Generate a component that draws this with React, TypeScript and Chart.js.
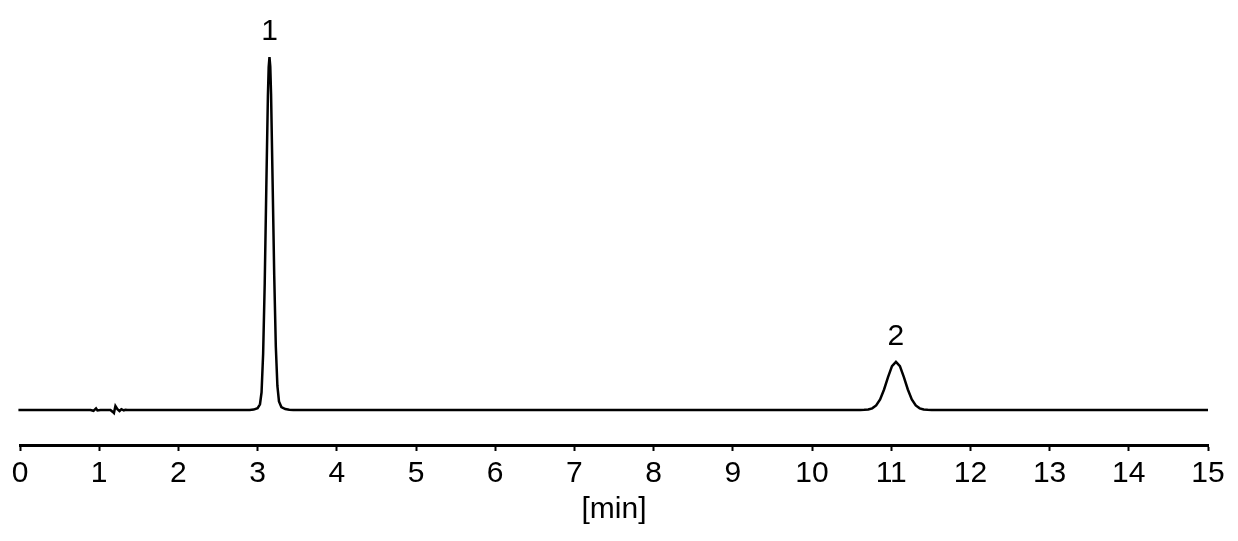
import React, { useEffect, useRef } from "react";
import { Chart, registerables } from "chart.js";

Chart.register(...registerables);

const FONT = "'Liberation Sans', Arial, Helvetica, sans-serif";

// x-axis tick labels (minutes)
const xTickValues = [0, 1, 2, 3, 4, 5, 6, 7, 8, 9, 10, 11, 12, 13, 14, 15];
const xAxisTitle = "[min]";

// baseline ends
const baselineStartTime = -0.02;
const baselineEndTime = 15;

// small injection disturbance around 1 min
const noiseTimes = [0.89, 0.928, 0.96, 0.978, 1.016, 1.142, 1.168, 1.186, 1.205, 1.23, 1.256, 1.28, 1.31, 1.33, 1.36];
const noiseSignal = [0, -0.25, 0.45, -0.15, 0, 0, -0.5, -0.9, 1.1, 0.2, -0.3, 0.2, -0.15, 0.05, 0];

// peak 1
const peak1Times = [2.9, 2.95, 3.0, 3.03, 3.05, 3.07, 3.09, 3.11, 3.13, 3.14, 3.15, 3.16, 3.17, 3.19, 3.21, 3.23, 3.25, 3.27, 3.3, 3.35, 3.4, 3.45];
const peak1Signal = [0, 0.1, 0.5, 1.6, 5.0, 16, 36, 63, 89, 97.2, 100, 97.3, 89.5, 64, 38, 18, 6.8, 2.4, 0.8, 0.25, 0.05, 0];

// peak 2
const peak2Times = [10.61, 10.66, 10.71, 10.76, 10.81, 10.86, 10.91, 10.96, 11.01, 11.06, 11.11, 11.16, 11.21, 11.26, 11.31, 11.36, 11.41, 11.46, 11.51];
const peak2Signal = [0, 0.03, 0.13, 0.45, 1.28, 3.0, 5.8, 9.3, 12.4, 13.6, 12.4, 9.3, 5.8, 3.0, 1.28, 0.45, 0.13, 0.03, 0];

// peak annotations
const peakLabels = ["1", "2"];
const peakApexTimes = [3.15, 11.06];
const peakApexSignal = [100, 13.6];

const traceTimes = [baselineStartTime, ...noiseTimes, ...peak1Times, ...peak2Times, baselineEndTime];
const traceSignal = [0, ...noiseSignal, ...peak1Signal, ...peak2Signal, 0];

const peakLabelPlugin = {
  id: "peakLabels",
  afterDatasetsDraw(chart: any) {
    const { ctx, scales } = chart;
    ctx.save();
    ctx.fillStyle = "#000";
    ctx.font = `30px ${FONT}`;
    ctx.textAlign = "center";
    ctx.textBaseline = "alphabetic";
    peakLabels.forEach((label, i) => {
      const x = scales.x.getPixelForValue(peakApexTimes[i]);
      const y = scales.y.getPixelForValue(peakApexSignal[i]);
      ctx.fillText(label, x, y - 17);
    });
    ctx.restore();
  },
};

export default function App() {
  const canvasRef = useRef<HTMLCanvasElement | null>(null);

  useEffect(() => {
    if (!canvasRef.current) return;
    const data = traceTimes.map((t, i) => ({ x: t, y: traceSignal[i] }));
    const chart = new Chart(canvasRef.current, {
      type: "line",
      data: {
        datasets: [
          {
            data,
            borderColor: "#000",
            borderWidth: 2.5,
            pointRadius: 0,
            tension: 0,
            fill: false,
            clip: false as any,
          },
        ],
      },
      options: {
        responsive: false,
        animation: false,
        parsing: false as any,
        layout: { padding: { left: 20, right: 30, top: 10, bottom: 13 } },
        plugins: { legend: { display: false }, tooltip: { enabled: false } },
        scales: {
          x: {
            type: "linear",
            min: 0,
            max: 15,
            afterBuildTicks: (axis: any) => {
              axis.ticks = xTickValues.map((v) => ({ value: v }));
            },
            ticks: {
              color: "#000",
              font: { family: FONT, size: 30 },
              padding: 5,
              maxRotation: 0,
              autoSkip: false,
            },
            grid: {
              display: true,
              drawOnChartArea: false,
              drawTicks: true,
              tickLength: 6,
              tickWidth: 2,
              tickColor: "#000",
            },
            border: { display: true, color: "#000", width: 3 },
            title: {
              display: true,
              text: xAxisTitle,
              color: "#000",
              font: { family: FONT, size: 30 },
              padding: { top: -5, bottom: 0 },
            },
          },
          y: {
            display: false,
            min: -9.94,
            max: 113.35,
          },
        },
      },
      plugins: [peakLabelPlugin],
    });
    return () => chart.destroy();
  }, []);

  return (
    <div style={{ position: "absolute", left: 0, top: 0, width: 1238, height: 541, background: "#fff" }}>
      <canvas ref={canvasRef} width={1238} height={541} style={{ display: "block" }} />
    </div>
  );
}
